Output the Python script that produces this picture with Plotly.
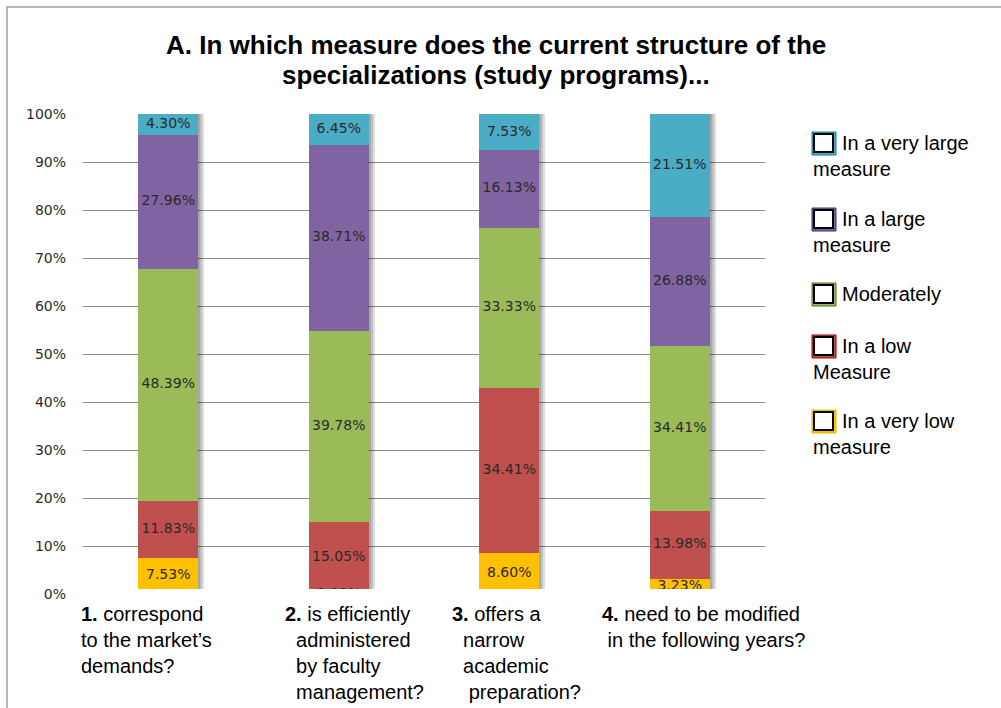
import plotly.graph_objects as go

# ---- data -------------------------------------------------------------
title_lines = [
    "A. In which measure does the current structure of the",
    "specializations (study programs)...",
]
questions = [
    "<b>1.</b> correspond<br>to the market\u2019s<br>demands?",
    "<b>2.</b> is efficiently<br>\u00a0\u00a0administered<br>\u00a0\u00a0by faculty<br>\u00a0\u00a0management?",
    "<b>3.</b> offers a<br>\u00a0\u00a0narrow<br>\u00a0\u00a0academic<br>\u00a0\u00a0\u00a0preparation?",
    "<b>4.</b> need to be modified<br>\u00a0in the following years?",
]
series_names = [
    "In a very low<br>measure",
    "In a low<br>Measure",
    "Moderately",
    "In a large<br>measure",
    "In a very large<br>measure",
]
very_low = [7.53, 0.00, 8.60, 3.23]
low = [11.83, 15.05, 34.41, 13.98]
moderate = [48.39, 39.78, 33.33, 34.41]
large = [27.96, 38.71, 16.13, 26.88]
very_large = [4.30, 6.45, 7.53, 21.51]
y_ticks = [0, 10, 20, 30, 40, 50, 60, 70, 80, 90, 100]

series_values = [very_low, low, moderate, large, very_large]
series_colors = ["#FFC000", "#C0504D", "#9BBB59", "#8064A2", "#4BACC6"]
legend_edge = ["#C8C800", "#A00000", "#4E6B2A", "#4A2A6A", "#1F7A9A"]

# ---- layout geometry (pixels) -----------------------------------------
W, H = 1001, 708
L, R, T, B = 83, 765, 114, 594
PW, PH = R - L, B - T


def px_x(px):
    return (px - L) / PW


def px_y(py):
    return (B - py) / PH


n = len(questions)
xs = list(range(n))
unit = PW / n            # pixels per category
bar_w = 60 / unit

fig = go.Figure()

# soft drop shadow to the right of each column
totals = [sum(s[i] for s in series_values) / 100 for i in xs]
for shift in (2, 4, 6):
    fig.add_trace(go.Bar(
        x=xs, y=totals, base=[0] * n, width=bar_w,
        offset=-bar_w / 2 + shift / unit,
        marker=dict(color="rgba(0,0,0,0.13)", line=dict(width=0)),
        hoverinfo="skip", showlegend=False,
    ))

# stacked segments
base = [0.0] * n
label_x, label_y, label_t = [], [], []
for vals, col, name in zip(series_values, series_colors, series_names):
    frac = [v / 100 for v in vals]
    fig.add_trace(go.Bar(
        x=xs, y=frac, base=list(base), width=bar_w,
        marker=dict(color=col, line=dict(width=0)),
        name=name.replace("<br>", " "), showlegend=False,
    ))
    for i, f in enumerate(frac):
        label_x.append(i)
        label_y.append(base[i] + f / 2)
        label_t.append(f"{vals[i]:.2f}%")
    base = [b + f for b, f in zip(base, frac)]

fig.add_trace(go.Scatter(
    x=label_x, y=label_y, text=label_t, mode="text",
    textfont=dict(family="DejaVu Sans", size=14, color="#2a2a2a"),
    hoverinfo="skip", showlegend=False, cliponaxis=True,
))

shapes = [
    # outer frame
    dict(type="rect", xref="paper", yref="paper",
         x0=px_x(7), x1=px_x(1010), y0=px_y(7), y1=px_y(720),
         line=dict(color="#A0A0A0", width=1.5), fillcolor="rgba(0,0,0,0)",
         layer="below"),
    # white panel under the question texts
    dict(type="rect", xref="paper", yref="paper",
         x0=px_x(72), x1=px_x(780), y0=px_y(589), y1=px_y(708),
         line=dict(width=0), fillcolor="white", layer="above"),
]

annotations = []

# two-line bold title
for line, cy in zip(title_lines, (45, 75)):
    annotations.append(dict(
        text=f"<b>{line}</b>", xref="paper", yref="paper",
        x=px_x(496), y=px_y(cy), xanchor="center", yanchor="middle",
        showarrow=False,
        font=dict(family="Liberation Sans", size=26, color="black"),
    ))

# question texts under the columns
q_left = [79, 283, 450, 600]
for i, q in enumerate(questions):
    annotations.append(dict(
        text=q, xref="paper", yref="paper", x=px_x(q_left[i]), y=px_y(601),
        xanchor="left", yanchor="top", align="left", showarrow=False,
        font=dict(family="Liberation Sans", size=20, color="black"),
    ))

# legend: outlined squares with wrapped labels (top entry first)
leg_rows = [143, 219, 294, 346, 421]
for k, row in enumerate(leg_rows):
    idx = len(series_names) - 1 - k
    parts = series_names[idx].split("<br>")
    sq_top = row - 11
    shapes.append(dict(type="rect", xref="paper", yref="paper",
                       x0=px_x(812), x1=px_x(836), y0=px_y(sq_top), y1=px_y(sq_top + 23),
                       line=dict(color=legend_edge[idx], width=1),
                       fillcolor=series_colors[idx], layer="above"))
    shapes.append(dict(type="rect", xref="paper", yref="paper",
                       x0=px_x(814), x1=px_x(833), y0=px_y(sq_top + 2), y1=px_y(sq_top + 20),
                       line=dict(color="black", width=2),
                       fillcolor="white", layer="above"))
    annotations.append(dict(
        text=parts[0], xref="paper", yref="paper", x=px_x(840), y=px_y(row),
        xanchor="left", yanchor="middle", showarrow=False,
        font=dict(family="Liberation Sans", size=20, color="black"),
    ))
    if len(parts) > 1:
        annotations.append(dict(
            text=parts[1], xref="paper", yref="paper", x=px_x(811), y=px_y(row + 26),
            xanchor="left", yanchor="middle", showarrow=False,
            font=dict(family="Liberation Sans", size=20, color="black"),
        ))

fig.update_layout(
    width=W, height=H,
    margin=dict(l=L, r=W - R, t=T, b=H - B, pad=0),
    barmode="overlay", bargap=0,
    plot_bgcolor="white", paper_bgcolor="white",
    showlegend=False,
    shapes=shapes, annotations=annotations,
    xaxis=dict(range=[-0.5, n - 0.5], showticklabels=False, showgrid=False,
               zeroline=False, showline=False, fixedrange=True),
    yaxis=dict(range=[0, 1], tickvals=[t / 100 for t in y_ticks],
               ticktext=[f"{t}%" for t in y_ticks],
               showgrid=True, gridcolor="#8C8C8C", gridwidth=1,
               zeroline=False, showline=False, ticks="",
               ticklabelstandoff=16,
               tickfont=dict(family="DejaVu Sans", size=14, color="#2b2b2b")),
)

fig.write_html("out.html")
